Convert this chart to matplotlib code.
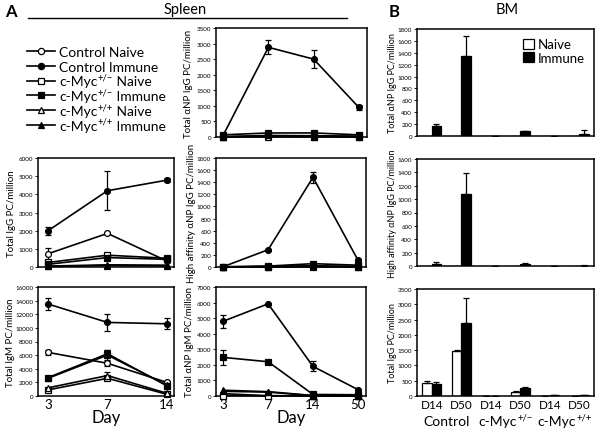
import matplotlib
matplotlib.use("Agg")
import matplotlib.pyplot as plt
from matplotlib.lines import Line2D
from matplotlib.patches import Patch
import numpy as np

plt.rcParams['font.family'] = ['Lato', 'DejaVu Sans']
plt.rcParams['mathtext.fontset'] = 'custom'
plt.rcParams['mathtext.rm'] = 'Lato'

# ---------------- data ----------------
days3 = ["3", "7", "14"]
days4 = ["3", "7", "14", "50"]
# (base text, superscript, trailing text)
series_labels = [("Control Naive", "", ""), ("Control Immune", "", ""),
                 ("c-Myc", "+/\u2212", " Naive"), ("c-Myc", "+/\u2212", " Immune"),
                 ("c-Myc", "+/+", " Naive"), ("c-Myc", "+/+", " Immune")]

# Total aNP IgG (spleen)
anp_igg = [[10, 30, 20, 10], [60, 2880, 2500, 950], [5, 20, 15, 10],
           [70, 130, 130, 70], [5, 10, 10, 5], [10, 50, 40, 30]]
anp_igg_err = [[0, 0, 0, 0], [40, 220, 280, 80], [0, 0, 0, 0],
               [20, 20, 30, 10], [0, 0, 0, 0], [0, 0, 0, 0]]
# Total IgG
tot_igg = [[730, 1850, 330], [2000, 4200, 4780], [250, 650, 480],
           [150, 520, 420], [50, 120, 100], [30, 80, 60]]
tot_igg_err = [[330, 60, 60], [220, 1070, 100], [60, 60, 40],
               [40, 60, 40], [0, 0, 0], [0, 0, 0]]
# High affinity aNP IgG
ha_igg = [[0, 5, 10, 5], [5, 285, 1480, 115], [0, 5, 10, 5],
          [5, 15, 55, 30], [0, 2, 5, 2], [0, 10, 20, 10]]
ha_igg_err = [[0, 0, 0, 0], [10, 15, 90, 20], [0, 0, 0, 0],
              [0, 5, 10, 5], [0, 0, 0, 0], [0, 0, 0, 0]]
# Total IgM
tot_igm = [[6400, 4800, 2000], [13500, 10800, 10600], [900, 2600, 250],
           [2700, 6200, 1500], [1200, 3000, 400], [2600, 6000, 1600]]
tot_igm_err = [[400, 350, 200], [850, 1300, 800], [100, 300, 50],
               [200, 500, 200], [150, 500, 50], [200, 700, 200]]
# Total aNP IgM
anp_igm = [[150, 20, 10, 5], [4800, 5920, 1900, 410], [30, 10, 5, 5],
           [2480, 2200, 100, 80], [300, 250, 20, 10], [370, 280, 30, 10]]
anp_igm_err = [[0, 0, 0, 0], [420, 50, 320, 40], [0, 0, 0, 0],
               [480, 80, 20, 10], [0, 0, 0, 0], [0, 0, 0, 0]]

# Panel B (bone marrow)
bm_days = ["D14", "D50", "D14", "D50", "D14", "D50"]
bm_groups = [("Control", ""), ("c-Myc", "+/\u2212"), ("c-Myc", "+/+")]
bm_anp_naive = [5, 0, 0, 0, 0, 0]
bm_anp_immune = [168, 1350, 0, 78, 0, 39]
bm_anp_immune_err = [40, 330, 0, 12, 0, 55]
bm_ha_naive = [0, 0, 0, 0, 0, 0]
bm_ha_immune = [35, 1070, 0, 35, 0, 5]
bm_ha_immune_err = [25, 320, 0, 12, 0, 3]
bm_igg_naive = [435, 1467, 5, 120, 10, 15]
bm_igg_naive_err = [70, 50, 0, 40, 0, 0]
bm_igg_immune = [400, 2380, 10, 260, 20, 25]
bm_igg_immune_err = [50, 810, 0, 35, 0, 0]

# ---------------- layout ----------------
W, H = 601, 435
fig = plt.figure(figsize=(W / 100, H / 100), dpi=100)
renderer = fig.canvas.get_renderer()


def add_ax(l, r, t, b):
    return fig.add_axes([l / W, 1 - b / H, (r - l) / W, (b - t) / H])


def sup_text(x_px, y_px, base, sup, tail, size, ha='left'):
    """Draw base + raised small superscript + tail; x,y in pixels from top-left."""
    parts = [(base, size, 0.0), (sup, size * 0.68, size * 0.42), (tail, size, 0.0)]
    parts = [p for p in parts if p[0]]
    widths = []
    for txt, fs, _ in parts:
        t = fig.text(0, 0, txt, fontsize=fs)
        widths.append(t.get_window_extent(renderer).width)
        t.remove()
    total = sum(widths)
    x0 = x_px - (total / 2 if ha == 'center' else 0)
    for (txt, fs, rise), w in zip(parts, widths):
        fig.text(x0 / W, 1 - (y_px - rise * 100 / 72) / H, txt, fontsize=fs,
                 ha='left', va='baseline')
        x0 += w


markers = ['o', 'o', 's', 's', '^', '^']
fills = ['white', 'black', 'white', 'black', 'white', 'black']
draw_order = [4, 2, 0, 5, 3, 1]


def style(ax, ymax, step, ylabel, xl_off, xlabels=None):
    ax.set_ylim(0, ymax)
    ax.set_yticks(np.arange(0, ymax + 1, step))
    ax.tick_params(axis='y', labelsize=4.5, length=2, width=0.6, pad=1.5)
    for s in ax.spines.values():
        s.set_linewidth(1.1)
    ax.set_ylabel(ylabel, fontsize=7)
    ax.yaxis.set_label_coords(xl_off, 0.5)
    if xlabels is None:
        ax.set_xticks([])
    else:
        ax.set_xticks(range(len(xlabels)))
        ax.set_xticklabels(xlabels, fontsize=9.5)
        ax.tick_params(axis='x', length=0, pad=1.5)
        ax.set_xlabel("Day", fontsize=12, labelpad=-1)


def line_panel(ax, data, err, cats):
    x = np.arange(len(cats))
    for i in draw_order:
        e = err[i]
        ax.errorbar(x, data[i], yerr=e if any(e) else None, color='black',
                    lw=1.2, marker=markers[i], ms=4.2, mfc=fills[i],
                    mec='black', mew=0.9, capsize=2, elinewidth=0.9,
                    capthick=0.9, zorder=3 + i, clip_on=False)
    if len(cats) == 3:
        ax.set_xlim(-0.17, 2.12)
    else:
        ax.set_xlim(-0.16, 3.18)


axA1 = add_ax(216, 367, 29, 138)
line_panel(axA1, anp_igg, anp_igg_err, days4)
style(axA1, 3500, 500, "Total \u03b1NP IgG PC/million", -0.155)

axA2 = add_ax(38, 174, 159, 268)
line_panel(axA2, tot_igg, tot_igg_err, days3)
style(axA2, 6000, 1000, "Total IgG PC/million", -0.165)

axA3 = add_ax(216, 366, 159, 268)
line_panel(axA3, ha_igg, ha_igg_err, days4)
style(axA3, 1800, 200, "High affinity \u03b1NP IgG PC/million", -0.13)

axA4 = add_ax(38, 174, 288, 397)
line_panel(axA4, tot_igm, tot_igm_err, days3)
style(axA4, 16000, 2000, "Total IgM PC/million", -0.17, days3)

axA5 = add_ax(216, 366, 288, 397)
line_panel(axA5, anp_igm, anp_igm_err, days4)
style(axA5, 7000, 1000, "Total \u03b1NP IgM PC/million", -0.15, days4)

# legend for panel A (evenly spaced rows)
for i, (base, sup, tail) in enumerate(series_labels):
    ypx = 52 + i * 14.8
    yy = 1 - ypx / H
    fig.add_artist(Line2D([27 / W, 55 / W], [yy, yy], color='black', lw=1.2))
    fig.add_artist(Line2D([41 / W], [yy], color='black', marker=markers[i],
                          ms=4.5, mfc=fills[i], mec='black', mew=0.9, lw=0))
    sup_text(59, ypx + 4.8, base, sup, tail, 10)


# ---------------- panel B ----------------
def bar_panel(ax, naive, immune, naive_err, immune_err, ymax, step, ylabel):
    x = np.arange(len(naive))
    w = 0.32
    ne = None if naive_err is None else [np.zeros(len(naive)), naive_err]
    ie = None if immune_err is None else [np.zeros(len(immune)), immune_err]
    ax.bar(x - w / 2, naive, w, color='white', edgecolor='black', lw=0.9,
           yerr=ne, capsize=2, error_kw=dict(elinewidth=0.9, capthick=0.9))
    ax.bar(x + w / 2, immune, w, color='black', edgecolor='black', lw=0.9,
           yerr=ie, capsize=2, error_kw=dict(elinewidth=0.9, capthick=0.9))
    ax.set_xlim(-0.5, 5.5)
    ax.set_ylim(0, ymax)
    ax.set_yticks(np.arange(0, ymax + 1, step))
    ax.tick_params(axis='y', labelsize=4.5, length=2, width=0.6, pad=1.5)
    for s in ax.spines.values():
        s.set_linewidth(1.1)
    ax.set_ylabel(ylabel, fontsize=6.5)
    ax.yaxis.set_label_coords(-0.115, 0.5)
    ax.set_xticks([])


axB1 = add_ax(417, 594, 30, 137)
bar_panel(axB1, bm_anp_naive, bm_anp_immune, None, bm_anp_immune_err,
          1800, 200, "Total \u03b1NP IgG PC/million")
axB1.legend([Patch(facecolor='white', edgecolor='black', lw=0.9),
             Patch(facecolor='black', edgecolor='black', lw=0.9)],
            ["Naive", "Immune"], loc='upper right', frameon=False, fontsize=9.5,
            handlelength=0.8, handleheight=0.8, handletextpad=0.3,
            labelspacing=0.12, borderaxespad=0.3)

axB2 = add_ax(417, 594, 160, 267)
bar_panel(axB2, bm_ha_naive, bm_ha_immune, None, bm_ha_immune_err,
          1600, 200, "High affinity \u03b1NP IgG PC/million")

axB3 = add_ax(417, 594, 290, 397)
bar_panel(axB3, bm_igg_naive, bm_igg_immune, bm_igg_naive_err, bm_igg_immune_err,
          3500, 500, "Total IgG PC/million")
axB3.set_xticks(range(6))
axB3.set_xticklabels(bm_days, fontsize=8.5)
axB3.tick_params(axis='x', length=0, pad=2)
for gi, (base, sup) in enumerate(bm_groups):
    xc = 417 + (2 * gi + 1) * (594 - 417) / 6
    sup_text(xc, 426, base, sup, "", 10, ha='center')

# ---------------- titles ----------------
fig.text(5 / W, 1 - 12 / H, "A", fontsize=12, fontweight='bold', va='center')
fig.text(389 / W, 1 - 12 / H, "B", fontsize=12, fontweight='bold', va='center')
fig.text(185 / W, 1 - 10 / H, "Spleen", fontsize=10.5, ha='center', va='center')
fig.text(507 / W, 1 - 10 / H, "BM", fontsize=10.5, ha='center', va='center')
fig.add_artist(Line2D([28 / W, 347 / W], [1 - 19 / H, 1 - 19 / H],
                      color='black', lw=1.0))

fig.savefig("out.png", dpi=100)
